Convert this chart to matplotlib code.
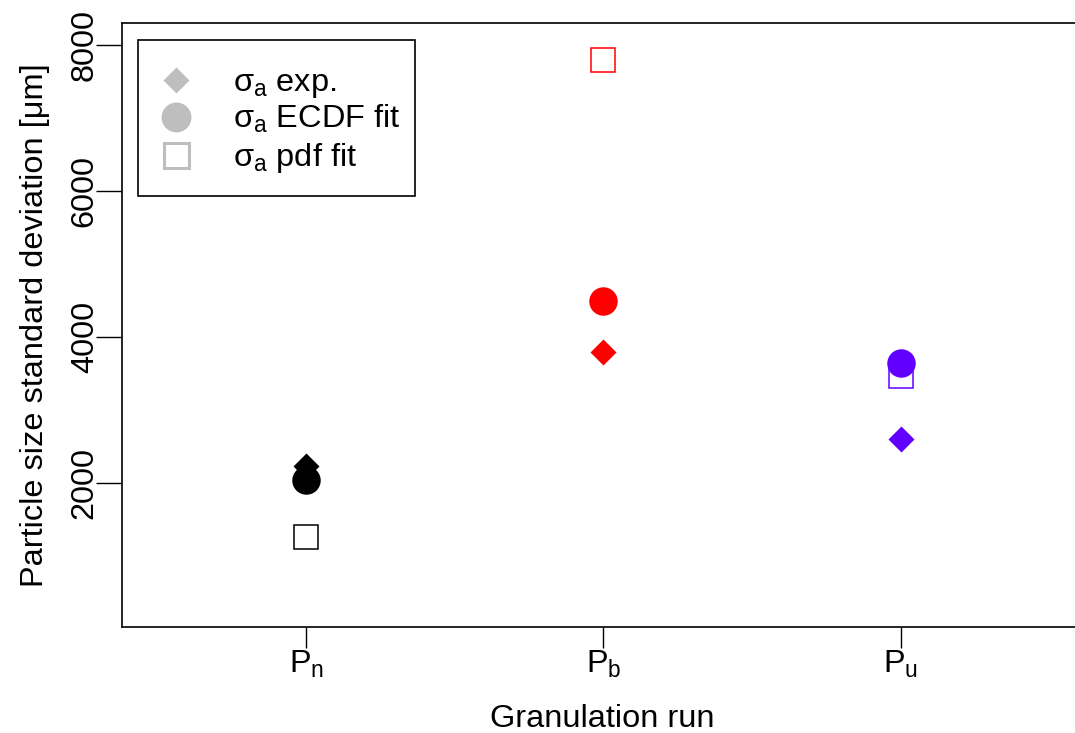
import matplotlib
matplotlib.use("Agg")
import matplotlib.pyplot as plt
from matplotlib.patches import Rectangle

plt.rcParams['font.family'] = ['Liberation Sans', 'DejaVu Sans']
plt.rcParams['mathtext.fontset'] = 'custom'
plt.rcParams['mathtext.rm'] = 'Liberation Sans'
plt.rcParams['mathtext.it'] = 'Liberation Sans:italic'
plt.rcParams['mathtext.bf'] = 'Liberation Sans:bold'

# ---- data ----
runs = [r'$\mathregular{P_n}$', r'$\mathregular{P_b}$', r'$\mathregular{P_u}$']
run_pos = [1, 2, 3]
sigma_exp = [2230, 3800, 2600]
sigma_ecdf = [2040, 4500, 3650]
sigma_pdf = [1260, 7800, 3470]
run_colors = ['#000000', '#FF0000', '#6200FF']
yticks = [2000, 4000, 6000, 8000]
legend_labels = [r'$\mathregular{\sigma_a}$ exp.', r'$\mathregular{\sigma_a}$ ECDF fit',
                 r'$\mathregular{\sigma_a}$ pdf fit']

W, H = 1075, 733
FS = 23.4
fig = plt.figure(figsize=(W/100, H/100), dpi=100)
ax = fig.add_axes([122/W, 1-627/H, (1082-122)/W, (627-23)/H])

for x, e, c, p, col in zip(run_pos, sigma_exp, sigma_ecdf, sigma_pdf, run_colors):
    ax.plot([x], [e], marker='D', ms=13.2, color=col, mec='none', ls='none')
    ax.plot([x], [c], marker='o', ms=20.5, color=col, mec='none', ls='none')
    ax.plot([x], [p], marker='s', ms=17, mfc='none', mec=col, mew=1.1, ls='none')

ax.set_xlim(0.38, 3.61)
ax.set_ylim(32, 8301)
ax.set_xticks(run_pos)
ax.set_xticklabels(runs, fontsize=FS)
ax.set_yticks(yticks)
ax.set_yticklabels([str(v) for v in yticks], fontsize=FS, rotation=90, va='center')
ax.tick_params(axis='x', length=15, width=1, pad=1)
ax.tick_params(axis='y', length=19, width=1, pad=-3)
for s in ax.spines.values():
    s.set_linewidth(1.2)

ax.set_xlabel('Granulation run', fontsize=FS, labelpad=17)
ax.set_ylabel('Particle size standard deviation [μm]', fontsize=FS, labelpad=14)

# ---- legend (drawn in figure pixel coordinates) ----
def fx(px):
    return px / W

def fy(py):
    return 1 - py / H

grey = '#BEBEBE'
fig.add_artist(Rectangle((fx(138), fy(196)), fx(415) - fx(138), fy(40) - fy(196),
                         transform=fig.transFigure, facecolor='white',
                         edgecolor='black', linewidth=1.2))
leg_rows = [80, 117, 155]
leg_styles = [
    dict(marker='D', ms=13.5, color=grey, mec='none'),
    dict(marker='o', ms=21.5, color=grey, mec='none'),
    dict(marker='s', ms=18, mfc='none', mec=grey, mew=2.2),
]
for ry, st, lab in zip(leg_rows, leg_styles, legend_labels):
    fig.add_artist(matplotlib.lines.Line2D([fx(176)], [fy(ry)], ls='none',
                                           transform=fig.transFigure, **st))
    fig.text(fx(233), fy(ry + 11), lab, fontsize=FS, va='baseline', ha='left')

fig.savefig('out.png', dpi=100)
